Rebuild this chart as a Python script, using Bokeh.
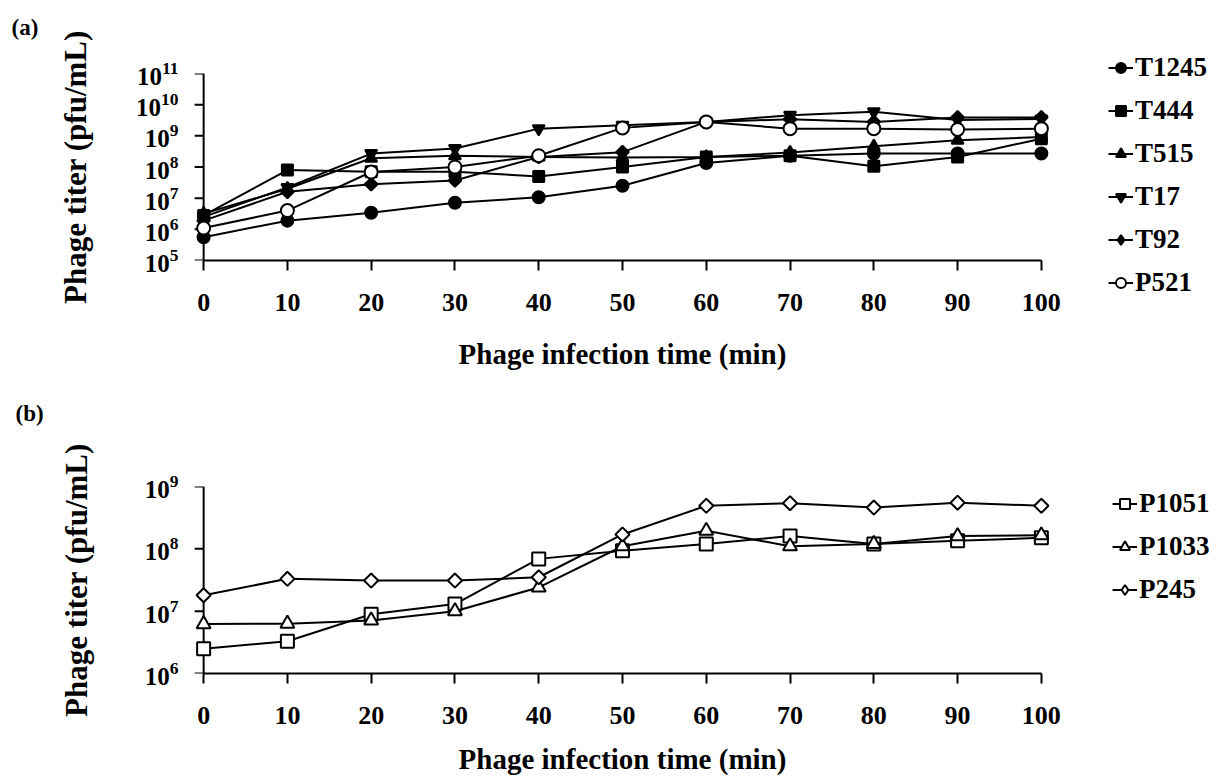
from bokeh.plotting import figure
from bokeh.models import FixedTicker, Range1d, Legend, LegendItem, Title
from bokeh.layouts import column
from bokeh.embed import file_html
from bokeh.resources import INLINE
import math

FONT = "Liberation Serif"

# ---------------- data ----------------
times = [0, 10, 20, 30, 40, 50, 60, 70, 80, 90, 100]
x_ticks = [0, 10, 20, 30, 40, 50, 60, 70, 80, 90, 100]

# panel (a) phage titers (pfu/mL)
T1245 = [5.6e5, 1.9e6, 3.4e6, 7.1e6, 1.07e7, 2.5e7, 1.35e8, 2.3e8, 2.7e8, 2.7e8, 2.7e8]
T444 = [2.8e6, 8.0e7, 7.0e7, 7.0e7, 5.0e7, 1.0e8, 2.1e8, 2.3e8, 1.05e8, 2.1e8, 8.1e8]
T515 = [3.2e6, 2.0e7, 1.9e8, 2.3e8, 2.1e8, 2.0e8, 2.1e8, 2.9e8, 4.6e8, 7.2e8, 9.2e8]
T17 = [2.5e6, 2.2e7, 2.7e8, 3.9e8, 1.7e9, 2.2e9, 2.8e9, 4.6e9, 5.9e9, 3.2e9, 3.5e9]
T92 = [1.9e6, 1.6e7, 2.8e7, 3.7e7, 2.1e8, 3.0e8, 2.8e9, 3.4e9, 2.8e9, 3.9e9, 3.9e9]
P521 = [1.1e6, 4.0e6, 6.9e7, 1.0e8, 2.3e8, 1.8e9, 2.8e9, 1.7e9, 1.7e9, 1.6e9, 1.7e9]
a_ticks = [1e5, 1e6, 1e7, 1e8, 1e9, 1e10, 1e11]

# panel (b)
P1051 = [2.5e6, 3.3e6, 8.9e6, 1.3e7, 6.9e7, 9.3e7, 1.2e8, 1.6e8, 1.2e8, 1.35e8, 1.5e8]
P1033 = [6.2e6, 6.3e6, 7.1e6, 1.0e7, 2.4e7, 1.1e8, 1.95e8, 1.1e8, 1.2e8, 1.6e8, 1.65e8]
P245 = [1.8e7, 3.3e7, 3.1e7, 3.1e7, 3.5e7, 1.7e8, 4.9e8, 5.4e8, 4.6e8, 5.5e8, 4.9e8]
b_ticks = [1e6, 1e7, 1e8, 1e9]

# name, values, marker, fill, size, angle, legend marker
series_a = [
    ("T1245", T1245, "circle", "black", 12, 0, "circle"),
    ("T444", T444, "square", "black", 11, 0, "square"),
    ("T515", T515, "triangle", "black", 12, 0, "triangle"),
    ("T17", T17, "inverted_triangle", "black", 12, 0, "inverted_triangle"),
    ("T92", T92, "square", "black", 9, math.pi / 4, "diamond"),
    ("P521", P521, "circle", "white", 13, 0, "circle"),
]
series_b = [
    ("P1051", P1051, "square", "white", 13, 0, "square"),
    ("P1033", P1033, "triangle", "white", 14, 0, "triangle"),
    ("P245", P245, "square", "white", 10, math.pi / 4, "diamond"),
]

FRAME_W = 888
X_LO, X_HI = -3, 103
TICK_PX = 9


def title(text, size, align, offset, standoff, valign="bottom"):
    return Title(text=text, align=align, offset=offset, standoff=standoff,
                 vertical_align=valign, text_font=FONT, text_font_style="bold",
                 text_font_size=size, text_color="black", text_line_height=1.0)


def make_panel(series, y_lo, y_hi, y_ticks, top, bottom, ylab_standoff,
               legend_loc):
    p = figure(frame_width=FRAME_W, frame_height=187,
               x_range=Range1d(X_LO, X_HI), y_range=Range1d(y_lo, y_hi),
               y_axis_type="log", output_backend="svg", toolbar_location=None,
               min_border_left=178, min_border_right=148,
               min_border_top=top, min_border_bottom=bottom)
    p.outline_line_color = None
    p.xgrid.grid_line_color = None
    p.ygrid.grid_line_color = None

    for ax in (p.xaxis[0], p.yaxis[0]):
        ax.axis_line_width = 2
        ax.axis_line_color = "black"
        ax.major_tick_line_width = 2
        ax.major_tick_line_color = "black"
        ax.major_tick_in = 0
        ax.major_tick_out = 10
        ax.minor_tick_line_color = None
        ax.major_label_text_font = FONT
        ax.major_label_text_font_style = "bold"
        ax.major_label_text_color = "black"

    xa = p.xaxis[0]
    xa.ticker = FixedTicker(ticks=x_ticks)
    xa.bounds = (0, 100)
    xa.major_label_standoff = 23
    xa.major_label_text_font_size = "26px"

    # left axis only carries the tick labels and the title; its line and
    # ticks are drawn at x = 0 inside the frame below
    ya = p.yaxis[0]
    ya.ticker = FixedTicker(ticks=y_ticks)
    ya.axis_line_color = None
    ya.major_tick_line_color = None
    ya.major_tick_out = 0
    ya.major_label_standoff = 0
    ya.major_label_text_font_size = "25px"
    ya.axis_label = "Phage titer (pfu/mL)"
    ya.axis_label_text_font = FONT
    ya.axis_label_text_font_style = "bold"
    ya.axis_label_text_font_size = "31px"
    ya.axis_label_text_color = "black"
    ya.axis_label_standoff = ylab_standoff

    # y axis line and ticks at x = 0
    tick_len = TICK_PX * (X_HI - X_LO) / FRAME_W
    p.segment(x0=[0], y0=[y_ticks[0]], x1=[0], y1=[y_ticks[-1]],
              line_color="black", line_width=2)
    p.segment(x0=[0] * len(y_ticks), y0=y_ticks,
              x1=[-tick_len] * len(y_ticks), y1=y_ticks,
              line_color="black", line_width=2)

    items = []
    for name, vals, marker, fill, size, ang, lmarker in series:
        ln = p.line(times, vals, line_color="black", line_width=2)
        sc = p.scatter(times, vals, marker=marker, size=size, angle=ang,
                       fill_color=fill, line_color="black", line_width=2)
        if lmarker != marker:
            # hidden twin, only used to draw the legend symbol
            sc = p.scatter(times, vals, marker=lmarker, size=size,
                           fill_color=fill, line_color="black", line_width=2,
                           visible=False)
        items.append(LegendItem(label=name, renderers=[ln, sc]))

    leg = Legend(items=items, location=legend_loc)
    leg.border_line_color = None
    leg.background_fill_alpha = 0
    leg.padding = 0
    leg.margin = 0
    leg.spacing = 12
    leg.glyph_width = 25
    leg.glyph_height = 25
    leg.label_height = 25
    leg.label_standoff = 2
    leg.label_text_font = FONT
    leg.label_text_font_style = "bold"
    leg.label_text_font_size = "27px"
    leg.label_text_color = "black"
    p.add_layout(leg, "right")
    return p


pa = make_panel(series_a, 1e5, 1e11, a_ticks, 73, 173, 40, (42, -38))
pb = make_panel(series_b, 1e6, 1e9, b_ticks, 53, 10, 48, (46, 68))

pa.add_layout(title("(a)\n\u00a0", "23px", "left", -167, 14, "top"), "above")
pa.add_layout(title("Phage infection time (min)", "29px", "center", 42, 44), "below")
pa.add_layout(title("(b)", "23px", "left", -163, 14), "below")
pb.add_layout(title("Phage infection time (min)", "29px", "center", 42, 28), "below")

layout = column(pa, pb, spacing=0)
open("out.html", "w").write(file_html(layout, INLINE))
